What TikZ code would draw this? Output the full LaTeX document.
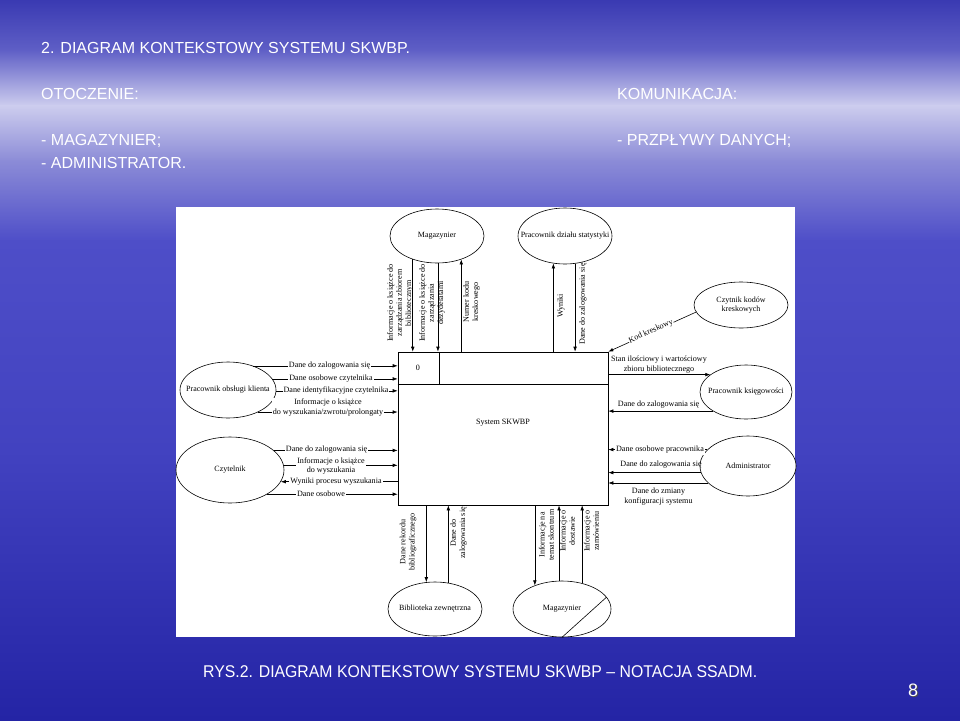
\documentclass[tikz,border=0pt]{standalone}
\usepackage{fontspec}
\setmainfont{Liberation Serif}
\newfontfamily\hdr{Liberation Sans}
\usetikzlibrary{arrows.meta,shapes.geometric,calc}
\definecolor{bgA}{RGB}{58,58,178}
\definecolor{bgB}{RGB}{95,95,198}
\definecolor{bgC}{RGB}{205,205,238}
\definecolor{bgD}{RGB}{140,140,215}
\definecolor{bgE}{RGB}{78,78,200}
\definecolor{bgF}{RGB}{66,66,192}
\definecolor{bgG}{RGB}{36,36,165}
\begin{document}
\begin{tikzpicture}[x=1pt,y=-1pt,
  ent/.style={ellipse,draw,line width=0.6pt,fill=white,inner sep=0pt,font=\fontsize{8}{9.3}\selectfont},
  flow/.style={draw,line width=0.6pt,-{Latex[length=5pt,width=3.6pt]}},
  lbl/.style={font=\fontsize{8.1}{9.2}\selectfont,inner sep=1pt,align=center},
  ilbl/.style={lbl,fill=white},
  vlbl/.style={lbl,rotate=90},
  title/.style={font=\hdr\fontsize{16}{19}\selectfont,text=white,anchor=base west,inner sep=0pt},
]
\useasboundingbox (0,0) rectangle (960,720);
% background
\shade[top color=bgA,bottom color=bgB] (0,0) rectangle (960,51);
\shade[top color=bgB,bottom color=bgC] (0,50) rectangle (960,106);
\shade[top color=bgC,bottom color=bgD] (0,105) rectangle (960,161);
\shade[top color=bgD,bottom color=bgE] (0,160) rectangle (960,241);
\shade[top color=bgE,bottom color=bgF] (0,240) rectangle (960,451);
\shade[top color=bgF,bottom color=bgG] (0,450) rectangle (960,720);
% white panel
\fill[white] (176,207) rectangle (795,637);

% header texts
\node[title] (h1) at (41,53) {2. DIAGRAM KONTEKSTOWY SYSTEMU SKWBP.};
\node[title] (h2) at (41,99) {OTOCZENIE:};
\node[title] (h3) at (41,145) {- MAGAZYNIER;};
\node[title] (h4) at (41,168) {- ADMINISTRATOR.};
\node[title] (h5) at (617,99) {KOMUNIKACJA:};
\node[title] (h6) at (617,145) {- PRZPŁYWY DANYCH;};
\node[title,font=\hdr\fontsize{17}{19}\selectfont,xscale=0.93] (foot) at (203,677) {RYS.2. DIAGRAM KONTEKSTOWY SYSTEMU SKWBP – NOTACJA SSADM.};
\node[font=\hdr\fontsize{18}{20}\selectfont,text=black!70,inner sep=0pt] (pgs) at (914,691) {8};
\node[font=\hdr\fontsize{18}{20}\selectfont,text=white,inner sep=0pt] (pg) at (913,690) {8};

% system box
\node[draw,line width=0.6pt,minimum width=210,minimum height=153,inner sep=0pt] (sys) at (503,428.5) {};
\draw[line width=0.6pt] (sys.west |- 0,384) -- (sys.east |- 0,384);
\draw[line width=0.6pt] (sys.north -| 439,0) -- (439,384);
\node[lbl] (nr) at (418,368) {0};
\node[lbl] (sysname) at (503,423) {System SKWBP};

% external entities
\node[ent,minimum width=94,minimum height=54] (magT) at (437,236) {\makebox[0pt]{Magazynier}};
\node[ent,minimum width=94,minimum height=56] (pds) at (565,236) {\makebox[0pt]{Pracownik działu statystyki}};
\node[ent,minimum width=94,minimum height=46] (czk) at (741,305) {\makebox[0pt]{\begin{tabular}{@{}c@{}}Czytnik kodów\\[-1pt]kreskowych\end{tabular}}};
\node[ent,minimum width=96,minimum height=56] (pok) at (228,390) {\makebox[0pt]{Pracownik obsługi klienta}};
\node[ent,minimum width=108,minimum height=66] (cz) at (230,470) {\makebox[0pt]{Czytelnik}};
\node[ent,minimum width=92,minimum height=54] (pk) at (746,392) {\makebox[0pt]{Pracownik księgowości}};
\node[ent,minimum width=96,minimum height=60] (adm) at (748,466) {\makebox[0pt]{Administrator}};
\node[ent,minimum width=94,minimum height=54] (bz) at (435,609) {\makebox[0pt]{Biblioteka zewnętrzna}};
\node[ent,minimum width=98,minimum height=56] (magB) at (562,609) {\makebox[0pt]{Magazynier}};
\draw[line width=0.6pt] (magB.-90) -- (magB.15);

% left: Pracownik obslugi klienta
\draw[flow] (pok.44) -- (pok.44 -| sys.west);
\draw[flow] (pok.14) -- (pok.14 -| sys.west);
\draw[flow] (pok.-1.2) -- (pok.-1.2 -| sys.west);
\draw[flow] (pok.-36.5) -- (pok.-36.5 -| sys.west);
\node[ilbl] (l1) at (329.5,366) {Dane do zalogowania się};
\node[ilbl] (l2) at (331,379) {Dane osobowe czytelnika};
\node[ilbl] (l3) at (336,391) {Dane identyfikacyjne czytelnika};
\node[ilbl] (l4) at (328,407.5) {Informacje o książce\\do wyszukania/zwrotu/prolongaty};

% left: Czytelnik
\draw[flow] (cz.24.9) -- (cz.24.9 -| sys.west);
\draw[flow] (cz.5.3) -- (cz.5.3 -| sys.west);
\draw[flow] (cz.-13.4 -| sys.west) -- (cz.-13.4);
\draw[flow] (cz.-33) -- (cz.-33 -| sys.west);
\node[ilbl] (l5) at (326.5,450) {Dane do zalogowania się};
\node[ilbl] (l6) at (331,466) {Informacje o książce\\do wyszukania};
\node[ilbl] (l7) at (336,482) {Wyniki procesu wyszukania};
\node[ilbl] (l8) at (321,494) {Dane osobowe};

% right: Pracownik ksiegowosci
\draw[flow] (pk.154.5 -| sys.east) -- (pk.154.5);
\draw[flow] (pk.210.2) -- (pk.210.2 -| sys.east);
\node[lbl] (r1) at (659,364.5) {Stan ilościowy i wartościowy\\zbioru bibliotecznego};
\node[lbl] (r2) at (658.5,405) {Dane do zalogowania się};

% right: Administrator
\draw[flow] (adm.158.5) -- (adm.158.5 -| sys.east);
\draw[flow] (adm.188.5) -- (adm.188.5 -| sys.east);
\draw[flow] (adm.203.3) -- (adm.203.3 -| sys.east);
\node[ilbl] (r3) at (660,450) {Dane osobowe pracownika};
\node[lbl] (r4) at (661,464.5) {Dane do zalogowania się};
\node[lbl] (r5) at (658.5,496.5) {Dane do zmiany\\konfiguracji systemu};

% Czytnik kodow
\draw[flow] (czk.189) -- (sys.north east);
\node[ilbl,inner sep=0.5pt,rotate=24.2] (k1) at (651,331.5) {Kod kreskowy};

% top flows
\draw[flow] (magT.-136) -- (magT.-136 |- sys.north);
\draw[flow] (magT.-88) -- (magT.-88 |- sys.north);
\draw[flow] (magT.-44 |- sys.north) -- (magT.-44);
\draw[flow] (pds.-113.9 |- sys.north) -- (pds.-113.9);
\draw[flow] (pds.-70) -- (pds.-70 |- sys.north);
\node[vlbl] (t1) at (400,303) {Informacje o książce do\\zarządzania zbiorem\\bibliotecznym};
\node[vlbl] (t2) at (432,303) {Informacje o książce do\\zarządzania\\dezyderatami};
\node[vlbl] (t3) at (471.5,302) {Numer kodu\\kreskowego};
\node[vlbl] (t4) at (561,306) {Wyniki};
\node[vlbl] (t5) at (583,304) {Dane do zalogowania się};

% bottom flows
\draw[flow] (bz.108.8 |- sys.south) -- (bz.108.8);
\draw[flow] (bz.63.4) -- (bz.63.4 |- sys.south);
\draw[flow] (magB.139.1 |- sys.south) -- (magB.139.1);
\draw[flow] (magB.96.1) -- (magB.96.1 |- sys.south);
\draw[flow] (magB.52) -- (magB.52 |- sys.south);
\node[vlbl] (b1) at (408,542) {Dane rekordu\\bibliograficznego};
\node[vlbl] (b2) at (458.5,533) {Dane do\\zalogowania się};
\node[vlbl] (b3) at (546.5,535) {Informacje na\\temat skontrum};
\node[vlbl] (b4) at (567.5,531) {Informacje o\\dostawie};
\node[vlbl] (b5) at (591.5,531) {Informacje o\\zamówieniu};
\end{tikzpicture}
\end{document}
